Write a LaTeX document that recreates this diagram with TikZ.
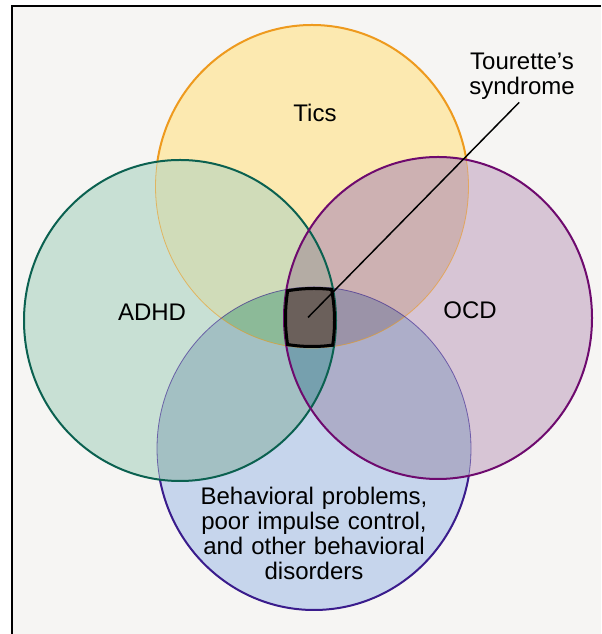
\documentclass[tikz,border=0pt]{standalone}
\usepackage{fontspec}
\setmainfont{Liberation Sans}
\usetikzlibrary{positioning}

% paper and ring colours
\definecolor{paper}{HTML}{F6F5F3}
\definecolor{ticsline}{HTML}{EE9A1E}
\definecolor{adhdline}{HTML}{0B6150}
\definecolor{ocdline}{HTML}{6E0A6E}
\definecolor{behline}{HTML}{3A1C8C}
% region fills
\definecolor{ticsfill}{HTML}{FCE9B0}
\definecolor{adhdfill}{HTML}{C8E0D4}
\definecolor{ocdfill}{HTML}{D7C5D5}
\definecolor{behfill}{HTML}{C6D5EC}
\definecolor{tafill}{HTML}{D0DCB9}
\definecolor{tofill}{HTML}{CDB1B2}
\definecolor{abfill}{HTML}{A3C0C3}
\definecolor{obfill}{HTML}{ADAEC9}
\definecolor{aofill}{HTML}{9FA3A8}
\definecolor{tbfill}{HTML}{A0B4A0}
\definecolor{taofill}{HTML}{B4ACA4}
\definecolor{tabfill}{HTML}{8CBA98}
\definecolor{tobfill}{HTML}{9B93A8}
\definecolor{aobfill}{HTML}{76A0AE}
\definecolor{corefill}{HTML}{6B605B}

% the four (slightly tall) circles
\newcommand{\circtics}{(312,447.5) ellipse (156.5 and 161.5)}
\newcommand{\circadhd}{(180,313.5) ellipse (156 and 160.5)}
\newcommand{\circocd}{(438,316) ellipse (154 and 161)}
\newcommand{\circbeh}{(314,185.5) ellipse (157 and 161.5)}

\tikzset{
  ring/.style={line width=1.5pt},
  faint ring/.style={line width=0.6pt, opacity=0.6},
  venn text/.style={font=\fontsize{18}{18.75}\selectfont, align=center, inner sep=0pt}
}

\begin{document}
\begin{tikzpicture}[x=0.75pt,y=0.75pt]
    \useasboundingbox (0,0) rectangle (601,634);

    % Paper and frame
    \fill[paper] (12,0) rectangle (601,628);
    \draw[line width=1.5pt] (12,0) -- (12,628) -- (601,628);

    % Single circles
    \foreach \s in {tics,adhd,ocd,beh}
        \fill[\s fill] \csname circ\s\endcsname;

    % Pairwise overlaps
    \foreach \p/\q/\c in {tics/adhd/tafill, tics/ocd/tofill, adhd/beh/abfill,
                          ocd/beh/obfill, adhd/ocd/aofill, tics/beh/tbfill} {
        \begin{scope}
            \clip \csname circ\p\endcsname;
            \fill[\c] \csname circ\q\endcsname;
        \end{scope}
    }

    % Triple overlaps
    \foreach \p/\q/\r/\c in {tics/adhd/ocd/taofill, tics/adhd/beh/tabfill,
                             tics/ocd/beh/tobfill, adhd/ocd/beh/aobfill} {
        \begin{scope}
            \clip \csname circ\p\endcsname;
            \clip \csname circ\q\endcsname;
            \fill[\c] \csname circ\r\endcsname;
        \end{scope}
    }

    % Faint inner arcs of Tics and behaviour rings
    \draw[faint ring, ticsline] \circtics;
    \draw[faint ring, behline] \circbeh;

    % Outer arcs at full strength
    \begin{scope}[even odd rule]
        \clip (0,0) rectangle (601,634) \circadhd;
        \clip (0,0) rectangle (601,634) \circocd;
        \draw[ring, ticsline] \circtics;
        \draw[ring, behline] \circbeh;
    \end{scope}

    % ADHD and OCD rings on top
    \draw[ring, adhdline] \circadhd;
    \draw[ring, ocdline] \circocd;

    % Core where all four meet
    \begin{scope}
        \clip \circtics; \clip \circadhd; \clip \circocd; \clip \circbeh;
        \fill[corefill] (0,0) rectangle (601,634);
        \foreach \s in {tics,adhd,ocd,beh}
            \draw[line width=4.5pt] \csname circ\s\endcsname;
    \end{scope}

    % Labels
    \node[venn text] (ticslabel) at (315,521) {Tics};
    \node[venn text] (adhdlabel) at (152,322) {ADHD};
    \node[venn text] (ocdlabel) at (470,324) {OCD};
    \node[venn text, text width=280] (behlabel) at (314,101)
        {Behavioral problems,\\poor impulse control,\\and other behavioral\\disorders};
    \node[venn text] (tourette) at (522,558) {Tourette’s\\syndrome};

    % Pointer to the core
    \coordinate (core) at (308,316.5);
    \draw[line width=1.1pt, shorten >=3pt] (core) -- (tourette.south);
\end{tikzpicture}
\end{document}
